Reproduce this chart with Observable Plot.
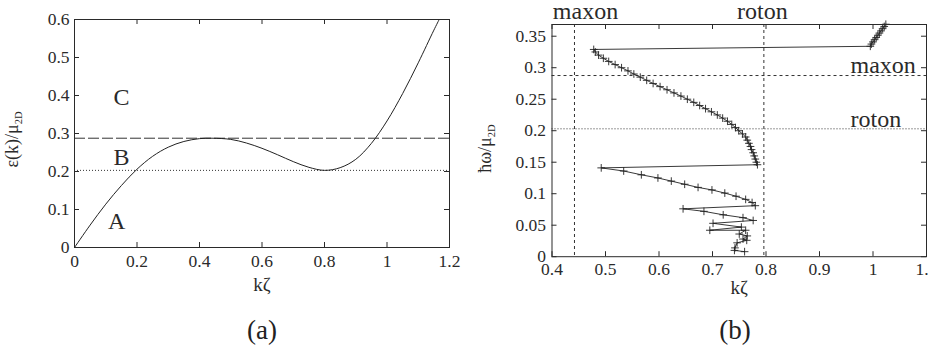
<!DOCTYPE html>
<html>
<head>
<meta charset="utf-8">
<script src="https://cdn.jsdelivr.net/npm/d3@7"></script>
<script src="https://cdn.jsdelivr.net/npm/@observablehq/plot@0.6"></script>
<style>
  html, body { margin: 0; padding: 0; background: #fff; overflow: hidden; }
  #wrap { position: relative; width: 929px; height: 354px; font-family: "Liberation Serif", "Times New Roman", Times, "DejaVu Serif", serif; }
  #wrap svg { position: absolute; top: 0; }
  #wrap svg text { font-family: "Liberation Serif", "Times New Roman", Times, "DejaVu Serif", serif; }
  .cap { position: absolute; top: 317px; font-size: 27px; line-height: 27px; color: #222; transform: translateX(-50%); }
</style>
</head>
<body>
<div id="wrap"></div>
<script>
// ---------- panel (a): dispersion ε(k)/μ2D ----------
const aK = [0, 0.05, 0.1, 0.15, 0.2, 0.25, 0.3, 0.35, 0.4, 0.44, 0.5, 0.55, 0.6, 0.65, 0.7, 0.75, 0.8, 0.85, 0.9, 0.95, 1.0, 1.05, 1.1, 1.15, 1.167];
const aE = [0, 0.059, 0.114, 0.163, 0.206, 0.24, 0.264, 0.279, 0.2865, 0.2876, 0.2845, 0.275, 0.261, 0.244, 0.226, 0.211, 0.203, 0.21, 0.232, 0.274, 0.333, 0.405, 0.486, 0.572, 0.6];
const maxonE = 0.2876;
const rotonE = 0.203;
const aXTicks = [0, 0.2, 0.4, 0.6, 0.8, 1, 1.2];
const aXTickLabels = ["0", "0.2", "0.4", "0.6", "0.8", "1", "1.2"];
const aYTicks = [0, 0.1, 0.2, 0.3, 0.4, 0.5, 0.6];
const aYTickLabels = ["0", "0.1", "0.2", "0.3", "0.4", "0.5", "0.6"];
const regionLabels = ["C", "B", "A"];
const regionK = [0.15, 0.15, 0.135];
const regionE = [0.396, 0.238, 0.07];

// ---------- panel (b): spectrum ħω/μ2D vs kζ ----------
const bK = [
  1.024, 1.021, 1.018, 1.015, 1.012, 1.009, 1.006, 1.003, 1.000, 0.997, 0.995,
  0.478, 0.481, 0.487, 0.496, 0.506, 0.518, 0.530, 0.542, 0.553, 0.565, 0.577, 0.589, 0.602, 0.615, 0.628,
  0.641, 0.653, 0.665, 0.676, 0.687, 0.698, 0.709, 0.719, 0.728, 0.736, 0.743, 0.749, 0.756, 0.762, 0.765,
  0.768, 0.771, 0.773, 0.776, 0.778, 0.780, 0.782, 0.784,
  0.492, 0.534, 0.567, 0.598, 0.623, 0.648, 0.673, 0.699, 0.723, 0.744, 0.762, 0.774, 0.780,
  0.645, 0.684, 0.720, 0.757, 0.776,
  0.701, 0.754, 0.695, 0.762, 0.750, 0.765, 0.757, 0.764, 0.746, 0.742, 0.741, 0.760
];
const bW = [
  0.369, 0.3655, 0.362, 0.3585, 0.355, 0.3515, 0.348, 0.3445, 0.341, 0.3375, 0.334,
  0.329, 0.325, 0.320, 0.315, 0.310, 0.305, 0.300, 0.295, 0.290, 0.285, 0.280, 0.275, 0.270, 0.265, 0.260,
  0.255, 0.250, 0.245, 0.240, 0.235, 0.230, 0.225, 0.220, 0.215, 0.210, 0.205, 0.200, 0.195, 0.190, 0.185,
  0.180, 0.175, 0.170, 0.165, 0.160, 0.155, 0.150, 0.146,
  0.141, 0.136, 0.130, 0.125, 0.120, 0.115, 0.110, 0.106, 0.101, 0.096, 0.091, 0.086, 0.081,
  0.076, 0.072, 0.0665, 0.062, 0.0575,
  0.053, 0.047, 0.042, 0.042, 0.036, 0.033, 0.028, 0.026, 0.022, 0.014, 0.010, 0.008
];
const maxonK = 0.442;
const rotonK = 0.796;
const bXTicks = [0.4, 0.5, 0.6, 0.7, 0.8, 0.9, 1, 1.1];
const bXTickLabels = ["0.4", "0.5", "0.6", "0.7", "0.8", "0.9", "1", "1.1"];
const bYTicks = [0, 0.05, 0.1, 0.15, 0.2, 0.25, 0.3, 0.35];
const bYTickLabels = ["0", "0.05", "0.1", "0.15", "0.2", "0.25", "0.3", "0.35"];

const FONT = "'Liberation Serif', 'Times New Roman', Times, 'DejaVu Serif', serif";
const INK = "#2a2a2a";

function frameTicks(xTicks, yTicks, xd, yd, len) {
  return [
    Plot.ruleX(xTicks, {x: d => d, y1: yd[0], y2: yd[0], insetTop: -len, stroke: INK}),
    Plot.ruleX(xTicks, {x: d => d, y1: yd[1], y2: yd[1], insetBottom: -len, stroke: INK}),
    Plot.ruleY(yTicks, {y: d => d, x1: xd[0], x2: xd[0], insetRight: -len, stroke: INK}),
    Plot.ruleY(yTicks, {y: d => d, x1: xd[1], x2: xd[1], insetLeft: -len, stroke: INK})
  ];
}

const aData = aK.map((k, i) => ({k, e: aE[i]}));
const aXd = [0, 1.2], aYd = [0, 0.6];
const plotA = Plot.plot({
  width: 465, height: 300,
  marginLeft: 74, marginRight: 16, marginTop: 19, marginBottom: 53,
  style: {fontFamily: FONT, fontSize: "17.5px", color: INK, background: "transparent"},
  x: {domain: aXd},
  y: {domain: aYd},
  marks: [
    Plot.ruleY([maxonE], {stroke: "#333", strokeWidth: 1, strokeDasharray: "11,3"}),
    Plot.ruleY([rotonE], {stroke: "#333", strokeWidth: 1, strokeDasharray: "1,2"}),
    Plot.line(aData, {x: "k", y: "e", curve: "catmull-rom", stroke: "#222", strokeWidth: 1}),
    Plot.frame({stroke: INK}),
    ...frameTicks(aXTicks, aYTicks, aXd, aYd, 5),
    Plot.axisX(aXTicks, {tickSize: 0, tickPadding: 7, fontFamily: FONT, fontSize: 17.5, tickFormat: (d, i) => aXTickLabels[i], label: null}),
    Plot.axisY(aYTicks, {tickSize: 0, tickPadding: 5, fontFamily: FONT, fontSize: 17.5, tickFormat: (d, i) => aYTickLabels[i], label: null}),
    Plot.text(regionLabels, {x: (d, i) => regionK[i], y: (d, i) => regionE[i], text: d => d, fontSize: 24, fill: INK, lineAnchor: "middle"}),
    Plot.text(["kζ"], {frameAnchor: "bottom", textAnchor: "middle", lineAnchor: "middle", dy: 37, fontSize: 19, fill: INK}),
    Plot.text(["ε(k)/μ"], {frameAnchor: "left", textAnchor: "middle", lineAnchor: "middle", rotate: -90, dx: -62, dy: 6, fontSize: 18, fill: INK})
  ]
});

const bData = bK.map((k, i) => ({k, w: bW[i]}));
const bXd = [0.4, 1.1], bYd = [0, 0.3686];
const plotB = Plot.plot({
  width: 464, height: 300,
  marginLeft: 86.5, marginRight: 3, marginTop: 24, marginBottom: 43.8,
  style: {fontFamily: FONT, fontSize: "17.5px", color: INK, background: "transparent"},
  x: {domain: bXd},
  y: {domain: bYd},
  marks: [
    Plot.ruleY([maxonE], {stroke: "#333", strokeWidth: 1, strokeDasharray: "3,3"}),
    Plot.ruleY([rotonE], {stroke: "#333", strokeWidth: 1, strokeDasharray: "1,2"}),
    Plot.ruleX([maxonK], {stroke: "#333", strokeWidth: 1, strokeDasharray: "3,3"}),
    Plot.ruleX([rotonK], {stroke: "#333", strokeWidth: 1, strokeDasharray: "3,3"}),
    Plot.line(bData, {x: "k", y: "w", stroke: "#222", strokeWidth: 0.9}),
    Plot.dot(bData, {x: "k", y: "w", symbol: "plus", r: 2.6, stroke: "#222", strokeWidth: 0.9}),
    Plot.frame({stroke: INK}),
    ...frameTicks(bXTicks, bYTicks, bXd, bYd, 5),
    Plot.axisX(bXTicks, {tickSize: 0, tickPadding: 6, fontFamily: FONT, fontSize: 17.5, tickFormat: (d, i) => bXTickLabels[i], label: null}),
    Plot.axisY(bYTicks, {tickSize: 0, tickPadding: 6, fontFamily: FONT, fontSize: 17.5, tickFormat: (d, i) => bYTickLabels[i], label: null}),
    Plot.text(["maxon"], {x: maxonK, frameAnchor: "top", textAnchor: "middle", lineAnchor: "middle", dx: 11, dy: -13.4, fontSize: 24, fill: INK}),
    Plot.text(["roton"], {x: rotonK, frameAnchor: "top", textAnchor: "middle", lineAnchor: "middle", dx: -1.5, dy: -13.4, fontSize: 24, fill: INK}),
    Plot.text(["maxon"], {y: maxonE, frameAnchor: "right", textAnchor: "start", lineAnchor: "middle", dx: -76, dy: -10, fontSize: 24, fill: INK}),
    Plot.text(["roton"], {y: rotonE, frameAnchor: "right", textAnchor: "start", lineAnchor: "middle", dx: -76, dy: -9.3, fontSize: 24, fill: INK}),
    Plot.text(["kζ"], {frameAnchor: "bottom", textAnchor: "middle", lineAnchor: "middle", dy: 31, fontSize: 19, fill: INK}),
    Plot.text(["ħω/μ"], {frameAnchor: "left", textAnchor: "middle", lineAnchor: "middle", rotate: -90, dx: -67, dy: 8, fontSize: 18, fill: INK})
  ]
});

function addSub(svg, base) {
  d3.select(svg).selectAll("text")
    .filter(function () { return this.textContent === base; })
    .append("tspan").attr("dy", 4).attr("font-size", 10.5).text("2D");
}
addSub(plotA, "ε(k)/μ");
addSub(plotB, "ħω/μ");

const wrap = document.getElementById("wrap");
plotA.style.left = "0px";
plotB.style.left = "465px";
wrap.appendChild(plotA);
wrap.appendChild(plotB);

const capA = document.createElement("div");
capA.className = "cap"; capA.style.left = "262px"; capA.textContent = "(a)";
const capB = document.createElement("div");
capB.className = "cap"; capB.style.left = "735px"; capB.textContent = "(b)";
wrap.appendChild(capA);
wrap.appendChild(capB);
</script>
</body>
</html>
